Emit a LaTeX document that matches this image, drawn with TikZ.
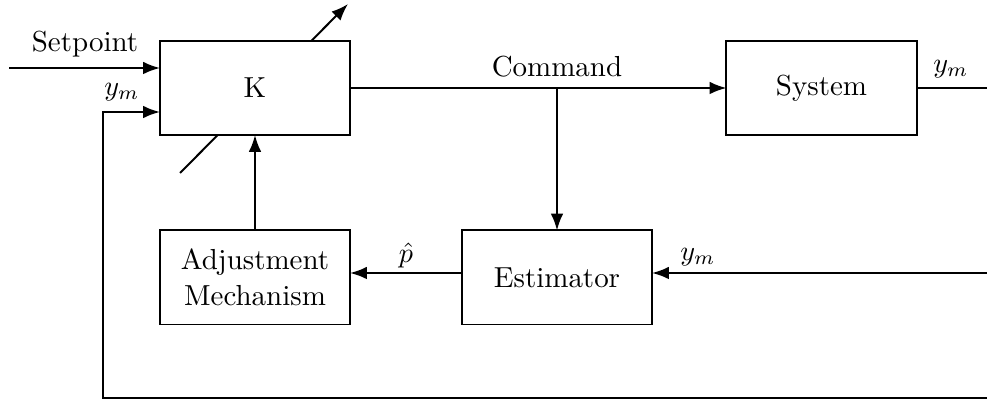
\documentclass[tikz,border=0pt]{standalone}
\usetikzlibrary{arrows.meta}
\begin{document}
\begin{tikzpicture}[x=0.0125cm,y=-0.0125cm,
  every node/.style={font=\fontsize{10.3}{13}\selectfont},
  block/.style={draw,fill=white,line width=0.7pt,minimum width=2.375cm,minimum height=1.175cm,align=center,inner sep=2pt,outer sep=0pt},
  wire/.style={line width=0.7pt},
  flow/.style={wire,-{Latex[length=6pt,width=4.5pt]}}]
\useasboundingbox (0,0) rectangle (987,400);
\clip (0,0) rectangle (987,400);

% tuning arrow through the controller, drawn first so the box covers it
\coordinate (tuneA) at (180,173);
\coordinate (tuneB) at (348,4);
\draw[flow] (tuneA) -- (tuneB);

\node[block] (K) at (255,88) {K};
\node[block] (sys) at (821.5,88) {System};
\node[block] (adj) at (255,277.5) {Adjustment\\Mechanism};
\node[block] (est) at (557,277.5) {Estimator};

\coordinate (sp) at (9,68);
\coordinate (fbcorner) at (103,398);
\coordinate (fbright) at (990,398);
\coordinate (out) at (990,88);
\coordinate (estin) at (990,273);
\coordinate (split) at (557,88);

% setpoint input
\draw[flow] (sp) -- (sp -| K.west);
\node at (85,44) {Setpoint};
% measured output fed back to the controller
\draw[flow] (fbright) -- (fbcorner) |- ([yshift=-0.3cm]K.west);
\node at (122,92) {$y_m$};
% command to the plant
\draw[flow] (K.east) -- (sys.west);
\node at (557,67) {Command};
\draw[flow] (split) -- (est.north);
% plant output
\draw[wire] (sys.east) -- (out);
\node at (951,69) {$y_m$};
% measurement into the estimator
\draw[flow] (estin) -- (estin -| est.east);
\node at (698,257) {$y_m$};
% estimate to the adjustment mechanism
\draw[flow] (est.west |- estin) -- (adj.east |- estin);
\node at (406,255) {$\hat{p}$};
% adjustment updates the controller
\draw[flow] (adj.north) -- (K.south);
\end{tikzpicture}
\end{document}
